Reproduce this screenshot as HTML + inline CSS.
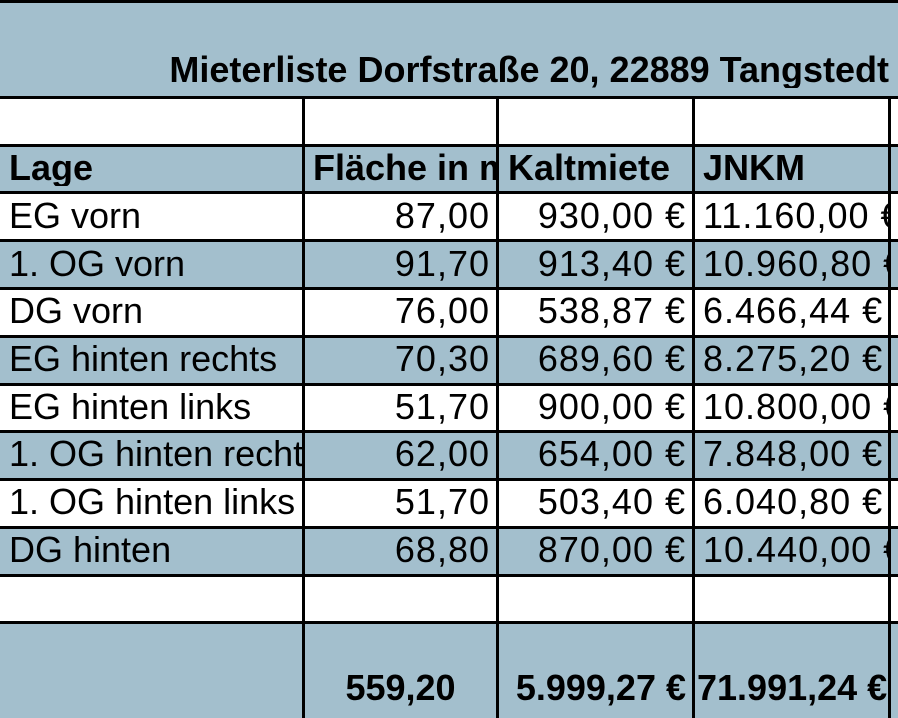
<!DOCTYPE html>
<html><head><meta charset="utf-8"><style>
html,body{margin:0;padding:0;}
body{width:898px;height:718px;position:relative;overflow:hidden;background:#fff;font-family:"Liberation Sans",Arial,sans-serif;color:#000;}
.bg{position:absolute;left:0;width:898px;background:#a3bfcd;}
.h{position:absolute;left:0;width:898px;height:3px;background:#000;}
.v{position:absolute;top:97px;width:3px;height:621px;background:#000;}
.c{position:absolute;font-size:36px;line-height:36px;white-space:nowrap;overflow:hidden;}
.b{font-weight:bold;}
.r{text-align:right;}
.n{letter-spacing:1px;}
</style></head><body>
<div class="bg" style="top:0;height:97px"></div>
<div class="bg" style="top:145px;height:47px"></div>
<div class="bg" style="top:240px;height:48px"></div>
<div class="bg" style="top:336px;height:48px"></div>
<div class="bg" style="top:431px;height:48px"></div>
<div class="bg" style="top:527px;height:48px"></div>
<div class="bg" style="top:622px;height:96px"></div>

<div class="h" style="top:0"></div>
<div class="h" style="top:96px"></div>
<div class="h" style="top:144px"></div>
<div class="h" style="top:191px"></div>
<div class="h" style="top:239px"></div>
<div class="h" style="top:287px"></div>
<div class="h" style="top:335px"></div>
<div class="h" style="top:383px"></div>
<div class="h" style="top:430px"></div>
<div class="h" style="top:478px"></div>
<div class="h" style="top:526px"></div>
<div class="h" style="top:574px"></div>
<div class="h" style="top:621px"></div>

<div class="c b r" style="top:52px;left:0px;width:889px">Mieterliste Dorfstraße 20, 22889 Tangstedt</div>

<div class="c b" style="top:150px;left:9px;width:292px">Lage</div>
<div class="c b" style="top:150px;left:313px;width:183px">Fläche in m²</div>
<div class="c b" style="top:150px;left:508px;width:184px">Kaltmiete</div>
<div class="c b" style="top:150px;left:703px;width:185px">JNKM</div>

<div class="c" style="top:198px;left:9px;width:292px">EG vorn</div>
<div class="c r n" style="top:198px;left:305px;width:185px">87,00</div>
<div class="c r n" style="top:198px;left:499px;width:187px">930,00 €</div>
<div class="c n" style="top:198px;left:703px;width:185px">11.160,00 €</div>

<div class="c" style="top:246px;left:9px;width:292px">1. OG vorn</div>
<div class="c r n" style="top:246px;left:305px;width:185px">91,70</div>
<div class="c r n" style="top:246px;left:499px;width:187px">913,40 €</div>
<div class="c n" style="top:246px;left:703px;width:185px">10.960,80 €</div>

<div class="c" style="top:293px;left:9px;width:292px">DG vorn</div>
<div class="c r n" style="top:293px;left:305px;width:185px">76,00</div>
<div class="c r n" style="top:293px;left:499px;width:187px">538,87 €</div>
<div class="c n" style="top:293px;left:703px;width:185px">6.466,44 €</div>

<div class="c" style="top:341px;left:9px;width:292px">EG hinten rechts</div>
<div class="c r n" style="top:341px;left:305px;width:185px">70,30</div>
<div class="c r n" style="top:341px;left:499px;width:187px">689,60 €</div>
<div class="c n" style="top:341px;left:703px;width:185px">8.275,20 €</div>

<div class="c" style="top:389px;left:9px;width:292px">EG hinten links</div>
<div class="c r n" style="top:389px;left:305px;width:185px">51,70</div>
<div class="c r n" style="top:389px;left:499px;width:187px">900,00 €</div>
<div class="c n" style="top:389px;left:703px;width:185px">10.800,00 €</div>

<div class="c" style="top:436px;left:9px;width:293px">1. OG hinten rechts</div>
<div class="c r n" style="top:436px;left:305px;width:185px">62,00</div>
<div class="c r n" style="top:436px;left:499px;width:187px">654,00 €</div>
<div class="c n" style="top:436px;left:703px;width:185px">7.848,00 €</div>

<div class="c" style="top:484px;left:9px;width:292px">1. OG hinten links</div>
<div class="c r n" style="top:484px;left:305px;width:185px">51,70</div>
<div class="c r n" style="top:484px;left:499px;width:187px">503,40 €</div>
<div class="c n" style="top:484px;left:703px;width:185px">6.040,80 €</div>

<div class="c" style="top:532px;left:9px;width:292px">DG hinten</div>
<div class="c r n" style="top:532px;left:305px;width:185px">68,80</div>
<div class="c r n" style="top:532px;left:499px;width:187px">870,00 €</div>
<div class="c n" style="top:532px;left:703px;width:185px">10.440,00 €</div>

<div class="c b" style="top:670px;left:305px;width:191px;text-align:center">559,20</div>
<div class="c b r" style="top:670px;left:499px;width:187px">5.999,27 €</div>
<div class="c b" style="top:670px;left:697px;width:191px">71.991,24 €</div>

<div class="v" style="left:302px"></div>
<div class="v" style="left:496px"></div>
<div class="v" style="left:692px"></div>
<div class="v" style="left:888px"></div>
</body></html>
